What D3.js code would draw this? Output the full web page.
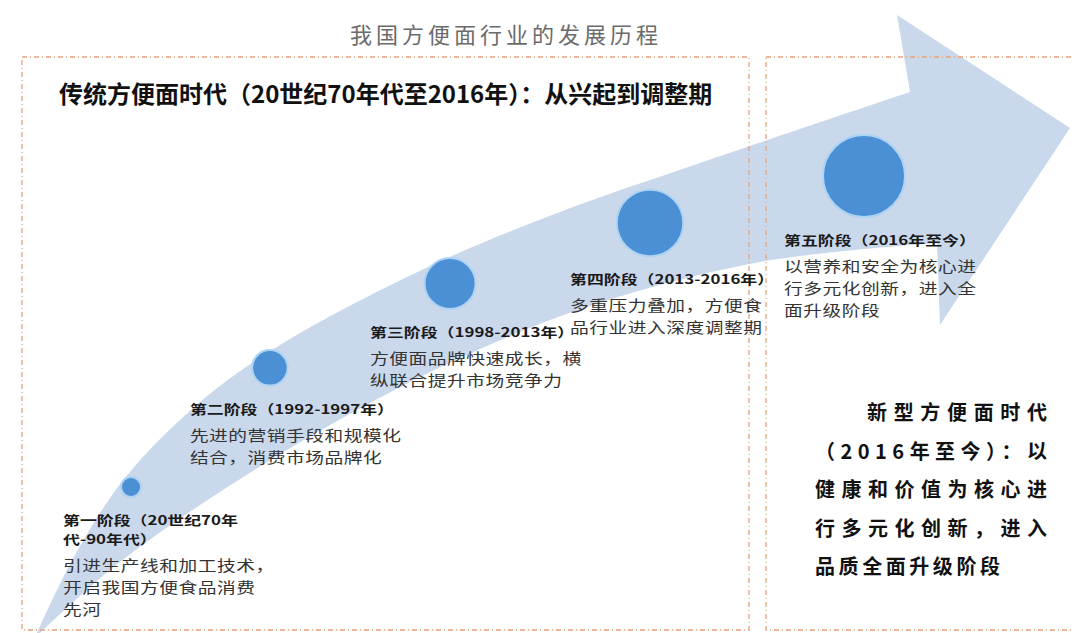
<!DOCTYPE html>
<html lang="zh">

<head>
    <meta charset="utf-8"/>
    <script src="https://d3js.org/d3.v7.min.js"></script>
    <style>
        body { margin: 0; background: #ffffff; }
        text { font-family: "Noto Sans CJK SC", "Noto Sans", sans-serif; }
    </style>
</head>
<body>

<script>
    // Chart text and values
    var chartTitle = "我国方便面行业的发展历程";
    var eraTitle = "传统方便面时代（20世纪70年代至2016年）：从兴起到调整期";
    var newEraLines = ["新型方便面时代", "（2016年至今）：以", "健康和价值为核心进", "行多元化创新，进入", "品质全面升级阶段"];

    var stageOrder = [0, 1, 2, 3, 4];
    var stageLevel = [1, 2, 3, 4, 5];
    var stageLabels = [
        ["第一阶段（20世纪70年", "代-90年代）"],
        ["第二阶段（1992-1997年）"],
        ["第三阶段（1998-2013年）"],
        ["第四阶段（2013-2016年）"],
        ["第五阶段（2016年至今）"]
    ];
    var stageTexts = [
        ["引进生产线和加工技术，", "开启我国方便食品消费", "先河"],
        ["先进的营销手段和规模化", "结合，消费市场品牌化"],
        ["方便面品牌快速成长，横", "纵联合提升市场竞争力"],
        ["多重压力叠加，方便食", "品行业进入深度调整期"],
        ["以营养和安全为核心进", "行多元化创新，进入全", "面升级阶段"]
    ];

    var width = 1072;
    var height = 633;

    var svg = d3.select("body")
        .append("svg")
        .attr("width", width)
        .attr("height", height);

    // Scales: stage position along the arrow, and dot size by level
    var x = d3.scalePow().exponent(1.2)
        .domain([0, 4])
        .range([131, 864]);
    var y = d3.scaleLog()
        .domain([131, 864])
        .range([487, 176]);
    var r = d3.scaleLinear()
        .domain([1, 5])
        .range([10, 41]);

    // The big curved arrow (background shape)
    var upperEdge = [[37, 633], [75, 555], [125, 478], [200, 402], [280, 345], [430, 266], [560, 212], [700, 163], [910, 92]];
    var lowerEdge = [[937, 243], [760, 262], [590, 306], [460, 358], [330, 425], [200, 505], [110, 570], [40, 633]];
    var head = [[897, 15], [1070, 128], [940, 325]];

    var edge = d3.line().curve(d3.curveCatmullRom);
    var arrowPath = edge(upperEdge)
        + head.map(function(p) { return "L" + p[0] + "," + p[1]; }).join("")
        + edge(lowerEdge).replace(/^M/, "L") + "Z";

    svg.append("path")
        .attr("d", arrowPath)
        .style("fill", "#cad8ec");

    // Dashed frames for the two eras
    function frame(x0, y0, w, h) {
        svg.append("rect")
            .attr("x", x0)
            .attr("y", y0)
            .attr("width", w)
            .attr("height", h)
            .style("fill", "none")
            .style("stroke", "#e8a27c")
            .style("stroke-width", 1.3)
            .style("stroke-dasharray", "5,3,1,3");
    }
    frame(22, 57, 727, 573);
    frame(766, 57, 320, 573);

    // Titles
    svg.append("text")
        .attr("x", 350)
        .attr("y", 43)
        .style("font-size", "22px")
        .style("letter-spacing", "4px")
        .style("fill", "#6b6b6b")
        .text(chartTitle);

    svg.append("text")
        .attr("x", 59)
        .attr("y", 103)
        .style("font-size", "24px")
        .style("font-weight", "bold")
        .style("fill", "#111")
        .text(eraTitle);

    // Stage dots
    svg.selectAll("mycircle")
        .data(stageOrder)
        .enter()
        .append("circle")
        .attr("cx", function(d) { return x(d); })
        .attr("cy", function(d) { return y(x(d)); })
        .attr("r", function(d) { return r(stageLevel[d]); })
        .style("fill", "#4b8fd5")
        .style("stroke", "#acd3f3")
        .style("stroke-width", 2);

    // Stage labels and descriptions (wide, squat glyphs like the original)
    var labelStep = 19;
    var bodyStep = 22;
    var stage = svg.selectAll("mystage")
        .data(stageOrder)
        .enter()
        .append("g")
        .attr("transform", function(d) {
            var lx = Math.max(63, x(d) - 80);
            var ly = y(x(d)) + r(stageLevel[d]) + 28;
            return "translate(" + lx + "," + ly + ")";
        });

    stage.append("text")
        .attr("transform", "scale(1.3,1)")
        .style("font-size", "13px")
        .style("font-weight", "bold")
        .style("fill", "#1a1a1a")
        .selectAll("tspan")
        .data(function(d) { return stageLabels[d]; })
        .enter()
        .append("tspan")
        .attr("x", 0)
        .attr("y", function(d, i) { return i * labelStep; })
        .text(function(d) { return d; });

    stage.append("text")
        .attr("transform", "scale(1.25,1)")
        .style("font-size", "15px")
        .style("letter-spacing", "0.4px")
        .style("fill", "#333")
        .selectAll("tspan")
        .data(function(d) {
            var top = (stageLabels[d].length - 1) * labelStep + 27;
            return stageTexts[d].map(function(line, i) { return {line: line, y: top + i * bodyStep}; });
        })
        .enter()
        .append("tspan")
        .attr("x", 0)
        .attr("y", function(d) { return d.y; })
        .text(function(d) { return d.line; });

    // New era text on the right
    var newEraStart = [867, 815, 815, 815, 815];
    var newEraLength = [180, 232, 232, 232, 185];
    svg.selectAll("mynewera")
        .data(newEraLines)
        .enter()
        .append("text")
        .attr("x", function(d, i) { return newEraStart[i]; })
        .attr("y", function(d, i) { return 420 + i * 38.5; })
        .attr("textLength", function(d, i) { return newEraLength[i]; })
        .attr("lengthAdjust", "spacing")
        .style("font-size", "20px")
        .style("font-weight", "bold")
        .style("fill", "#111")
        .text(function(d) { return d; });
</script>
</body>
</html>
